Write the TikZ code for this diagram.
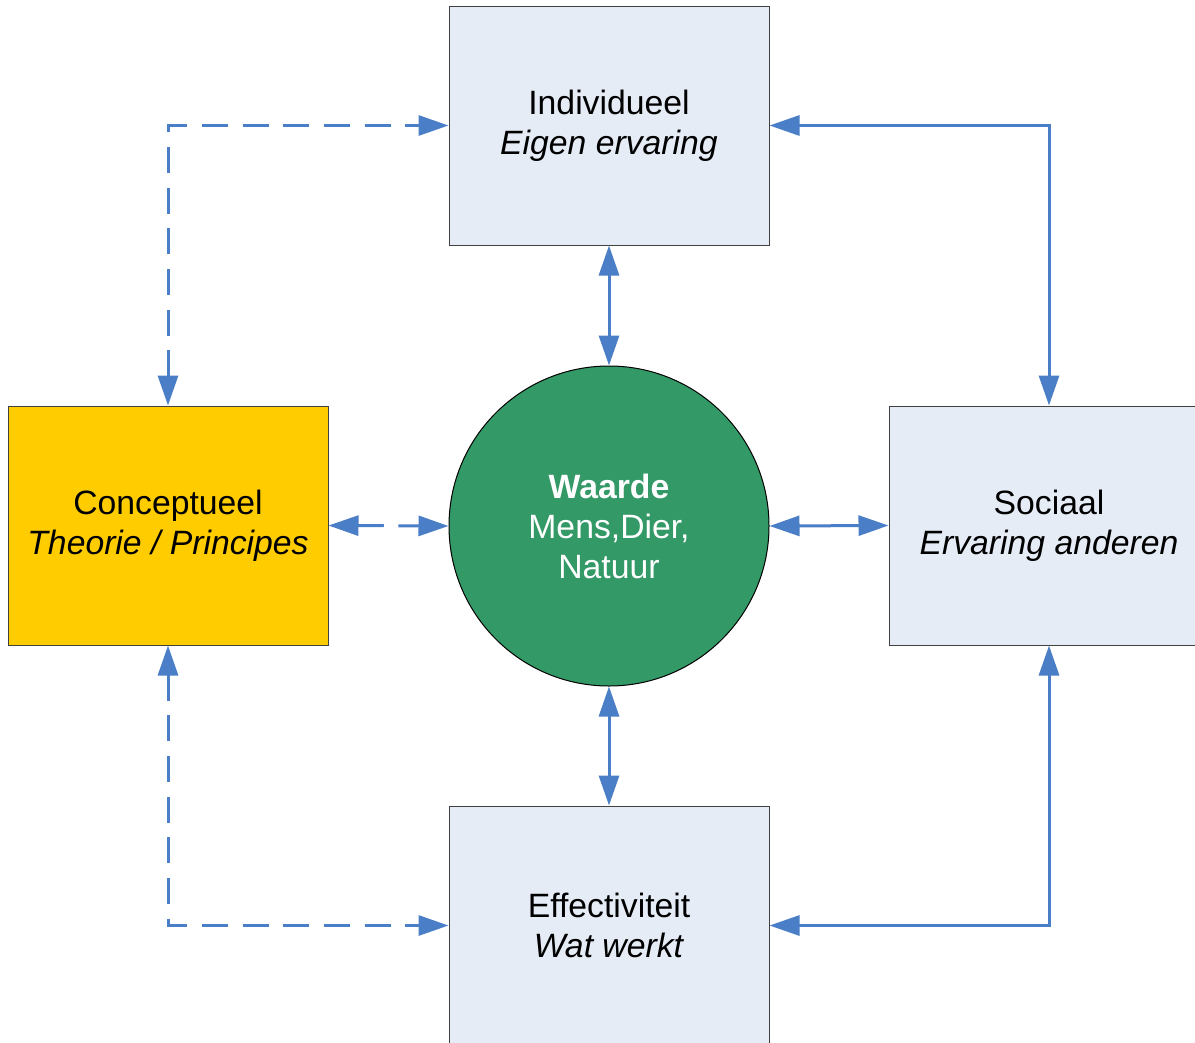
\documentclass[tikz,border=0pt]{standalone}
\usepackage{fontspec}
\setmainfont{Liberation Sans}
\usetikzlibrary{arrows.meta}
\definecolor{boxfill}{HTML}{E6ECF6}
\definecolor{yel}{HTML}{FFCC00}
\definecolor{grn}{HTML}{339966}
\definecolor{arr}{HTML}{4A7EC6}
\begin{document}
\begin{tikzpicture}[x=0.75pt,y=-0.75pt,
  box/.style={draw=black!75, line width=0.75pt, minimum width=240pt, minimum height=179.25pt, inner sep=0pt, align=center, font=\fontsize{25.3}{30}\selectfont},
  conn/.style={draw=arr, line width=2.25pt, {Triangle[length=22.5pt,width=15pt]}-{Triangle[length=22.5pt,width=15pt]}},
  dsh/.style={dash pattern=on 19.5pt off 11pt}]
\useasboundingbox (0,0) rectangle (1195,1042);
\clip (0,0) rectangle (1195,1042);
\node[box, fill=boxfill] (ind) at (609,125.5) {Individueel\\\textit{Eigen ervaring}};
\node[box, fill=yel] (con) at (168,525.5) {Conceptueel\\\textit{Theorie / Principes}};
\node[box, fill=boxfill] (soc) at (1049,525.5) {Sociaal\\\textit{Ervaring anderen}};
\node[box, fill=boxfill] (eff) at (609,925.5) {Effectiviteit\\\textit{Wat werkt}};
\node[circle, draw=black, line width=0.75pt, fill=grn, text=white, minimum size=240pt, inner sep=0pt, align=center, font=\fontsize{25.3}{30}\selectfont] (w) at (609,526) {\textbf{Waarde}\\Mens,Dier,\\Natuur};
\draw[conn,dsh] (con.north) |- (ind.west);
\draw[conn,dsh] (con.south) |- (eff.west);
\draw[conn] (ind.east) -| (soc.north);
\draw[conn] (soc.south) |- (eff.east);
\draw[conn] (ind.south) -- (w.north);
\draw[conn] (w.south) -- (eff.north);
\draw[conn,dsh] (con.east) -- (w.west);
\draw[conn] (w.east) -- (soc.west);
\end{tikzpicture}
\end{document}
